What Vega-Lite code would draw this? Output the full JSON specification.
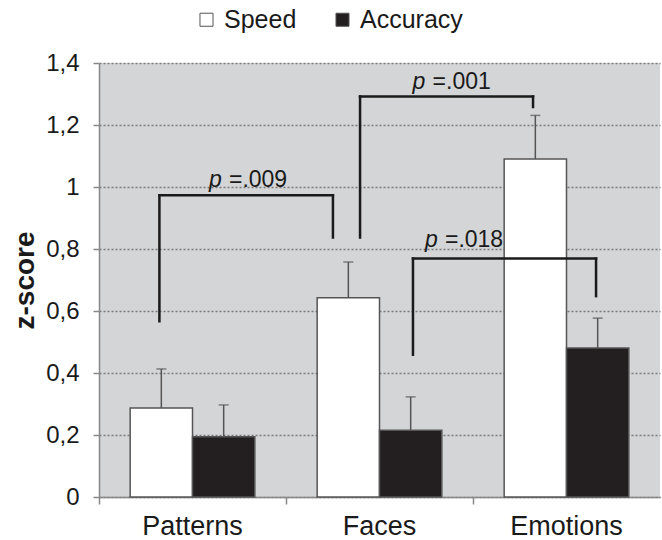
{
  "$schema": "https://vega.github.io/schema/vega-lite/v6.json",
  "width": 561,
  "height": 434,
  "autosize": {"type": "none"},
  "padding": {"left": 99, "top": 63, "right": 2, "bottom": 43},
  "background": "white",
  "config": {
    "view": {"fill": "#d4d5d7", "stroke": null},
    "font": "Liberation Sans",
    "axisY": {
      "labelFontSize": 24,
      "labelColor": "#1a1a1a",
      "labelPadding": 14,
      "tickSize": 6,
      "tickColor": "#888888",
      "tickWidth": 1.5,
      "domainColor": "#888888",
      "domainWidth": 1.5,
      "grid": true,
      "gridDash": [2, 2],
      "gridColor": "#7a7a7a",
      "gridWidth": 1.5,
      "titleFontSize": 28,
      "titleFontWeight": "bold",
      "titleColor": "#1a1a1a",
      "titlePadding": 6
    }
  },
  "datasets": {
    "bars": [
      {"cat": "Patterns", "series": "Speed", "value": 0.287, "upper": 0.413},
      {"cat": "Patterns", "series": "Accuracy", "value": 0.194, "upper": 0.297},
      {"cat": "Faces", "series": "Speed", "value": 0.643, "upper": 0.758},
      {"cat": "Faces", "series": "Accuracy", "value": 0.215, "upper": 0.323},
      {"cat": "Emotions", "series": "Speed", "value": 1.09, "upper": 1.231},
      {"cat": "Emotions", "series": "Accuracy", "value": 0.481, "upper": 0.577}
    ],
    "brackets": [
      {"x1": 0.323, "x2": 0.323, "y1": 0.567, "y2": 0.973},
      {"x1": 0.323, "x2": 1.251, "y1": 0.973, "y2": 0.973},
      {"x1": 1.251, "x2": 1.251, "y1": 0.837, "y2": 0.973},
      {"x1": 1.396, "x2": 1.396, "y1": 0.837, "y2": 1.292},
      {"x1": 1.396, "x2": 2.321, "y1": 1.292, "y2": 1.292},
      {"x1": 2.321, "x2": 2.321, "y1": 1.258, "y2": 1.292},
      {"x1": 1.679, "x2": 1.679, "y1": 0.459, "y2": 0.769},
      {"x1": 1.679, "x2": 2.658, "y1": 0.769, "y2": 0.769},
      {"x1": 2.658, "x2": 2.658, "y1": 0.648, "y2": 0.769}
    ],
    "labels": [
      {"p": "p", "eq": "=.009", "pX": 0.588, "eqX": 0.695, "ly": 1.0},
      {"p": "p", "eq": "=.001", "pX": 1.677, "eqX": 1.784, "ly": 1.315},
      {"p": "p", "eq": "=.018", "pX": 1.743, "eqX": 1.85, "ly": 0.806}
    ]
  },
  "layer": [
    {
      "data": {"name": "bars"},
      "layer": [
        {
          "mark": {"type": "bar", "stroke": "#555555", "strokeWidth": 1.5},
          "encoding": {
            "x": {
              "field": "cat", "type": "nominal", "sort": ["Patterns", "Faces", "Emotions"],
              "scale": {"paddingInner": 0, "paddingOuter": 0},
              "axis": {
                "title": null, "labelAngle": 0, "labelFontSize": 27, "labelColor": "#1a1a1a",
                "bandPosition": 0, "tickSize": 7, "tickColor": "#888888", "tickWidth": 1.5,
                "domainColor": "#888888", "domainWidth": 1.5, "labelPadding": 9, "grid": false
              }
            },
            "xOffset": {
              "field": "series", "type": "nominal", "sort": ["Speed", "Accuracy"],
              "scale": {"paddingOuter": 0.5, "paddingInner": 0}
            },
            "y": {
              "field": "value", "type": "quantitative", "title": "z-score",
              "scale": {"domain": [0, 1.4]},
              "axis": {
                "values": [0, 0.2, 0.4, 0.6, 0.8, 1, 1.2, 1.4],
                "labelExpr": "replace(format(datum.value, '~g'), '.', ',')"
              }
            },
            "fill": {
              "field": "series", "type": "nominal", "sort": ["Speed", "Accuracy"],
              "scale": {"domain": ["Speed", "Accuracy"], "range": ["#ffffff", "#231f20"]},
              "legend": {
                "title": null, "orient": "none", "direction": "horizontal",
                "legendX": 95, "legendY": -56, "padding": 0,
                "labelFontSize": 25, "labelColor": "#1a1a1a", "labelOffset": 5,
                "symbolType": "square", "symbolSize": 170,
                "symbolStrokeColor": "#555555", "symbolStrokeWidth": 1,
                "columnPadding": 33
              }
            }
          }
        },
        {
          "mark": {"type": "rule", "color": "#555555", "strokeWidth": 1.5},
          "encoding": {
            "x": {"field": "cat", "type": "nominal", "sort": ["Patterns", "Faces", "Emotions"]},
            "xOffset": {"field": "series", "type": "nominal", "sort": ["Speed", "Accuracy"]},
            "y": {"field": "value", "type": "quantitative", "title": "z-score"},
            "y2": {"field": "upper"}
          }
        },
        {
          "mark": {"type": "tick", "orient": "horizontal", "size": 10, "thickness": 1.5, "color": "#555555"},
          "encoding": {
            "x": {"field": "cat", "type": "nominal", "sort": ["Patterns", "Faces", "Emotions"]},
            "xOffset": {"field": "series", "type": "nominal", "sort": ["Speed", "Accuracy"]},
            "y": {"field": "upper", "type": "quantitative", "title": "z-score"}
          }
        }
      ]
    },
    {
      "layer": [
        {
          "data": {"name": "brackets"},
          "mark": {"type": "rule", "color": "#1a1a1a", "strokeWidth": 2.5, "strokeCap": "square"},
          "encoding": {
            "x": {"field": "x1", "type": "quantitative", "scale": {"domain": [0, 3]}, "axis": null},
            "x2": {"field": "x2"},
            "y": {"field": "y1", "type": "quantitative", "title": "z-score"},
            "y2": {"field": "y2"}
          }
        },
        {
          "data": {"name": "labels"},
          "mark": {"type": "text", "align": "left", "baseline": "alphabetic", "fontSize": 23, "fontStyle": "italic", "color": "#1a1a1a"},
          "encoding": {
            "x": {"field": "pX", "type": "quantitative", "scale": {"domain": [0, 3]}, "axis": null},
            "y": {"field": "ly", "type": "quantitative", "title": "z-score"},
            "text": {"field": "p"}
          }
        },
        {
          "data": {"name": "labels"},
          "mark": {"type": "text", "align": "left", "baseline": "alphabetic", "fontSize": 23, "color": "#1a1a1a"},
          "encoding": {
            "x": {"field": "eqX", "type": "quantitative", "scale": {"domain": [0, 3]}, "axis": null},
            "y": {"field": "ly", "type": "quantitative", "title": "z-score"},
            "text": {"field": "eq"}
          }
        }
      ]
    }
  ],
  "resolve": {"scale": {"x": "independent"}}
}
